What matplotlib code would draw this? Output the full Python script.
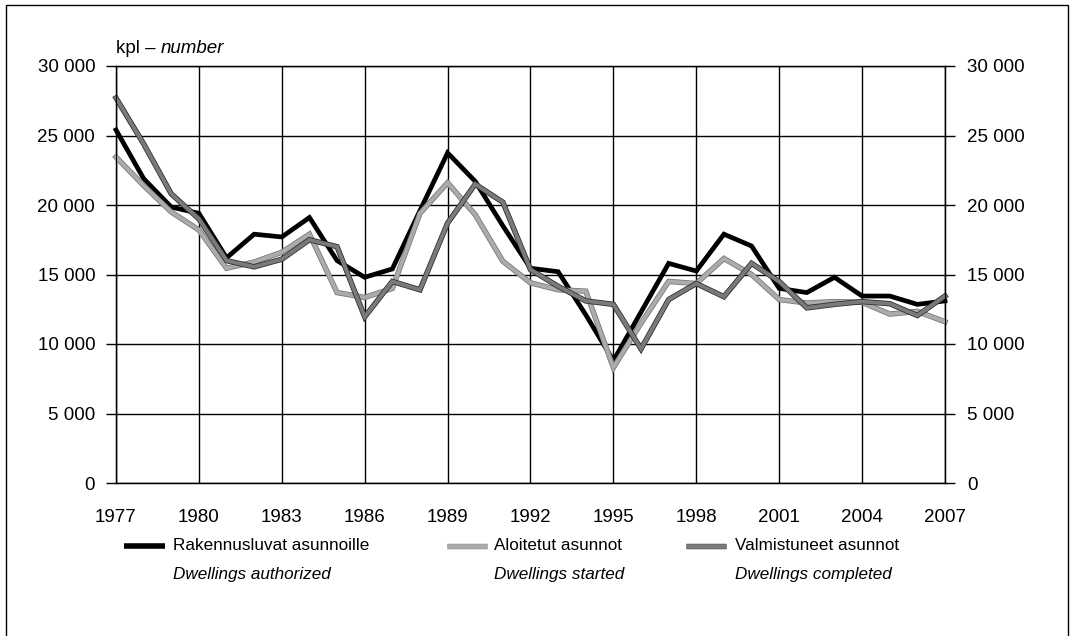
import matplotlib
matplotlib.use("Agg")
import matplotlib.pyplot as plt
import matplotlib.patheffects as pe
from matplotlib import font_manager
from matplotlib.lines import Line2D
from matplotlib.patches import Rectangle
from matplotlib.ticker import FuncFormatter, MultipleLocator

# Dwellings in Finland, 1977-2007 (number of dwellings)
years = list(range(1977, 2008))
authorized = [25400, 21900, 19850, 19400, 16200, 17900, 17700, 19100, 16000, 14800,
              15400, 19600, 23750, 21700, 18500, 15450, 15200, 12100, 8800, 12300,
              15800, 15250, 17900, 17050, 14000, 13700, 14800, 13450, 13450, 12850,
              13100]
started = [23450, 21400, 19500, 18200, 15450, 15900, 16600, 17900, 13700, 13350,
           14000, 19400, 21600, 19300, 15950, 14400, 13900, 13800, 8300, 11500,
           14500, 14350, 16150, 15000, 13200, 12950, 13050, 13000, 12150, 12350,
           11600]
completed = [27700, 24400, 20800, 19000, 16000, 15550, 16100, 17500, 17000, 11950,
             14500, 13900, 18700, 21500, 20200, 15350, 14150, 13100, 12850, 9650,
             13200, 14350, 13400, 15800, 14500, 12600, 12850, 13050, 12900, 12050,
             13450]

series_fi = ["Rakennusluvat asunnoille", "Aloitetut asunnot", "Valmistuneet asunnot"]
series_en = ["Dwellings authorized", "Dwellings started", "Dwellings completed"]
unit_fi = "kpl \u2013 "
unit_en = "number"

installed = {f.name for f in font_manager.fontManager.ttflist}
if "Liberation Sans Narrow" in installed:
    FONT, FS, LFS = "Liberation Sans Narrow", 15.5, 15
else:
    FONT, FS, LFS = "Liberation Sans", 13.5, 12.3
plt.rcParams["font.family"] = [FONT, "DejaVu Sans"]

W, H = 1076, 636
fig = plt.figure(figsize=(W / 100, H / 100), dpi=100)
fig.patch.set_facecolor("white")

# outer frame of the figure panel
fig.add_artist(Rectangle((6 / W, -0.05), (1068 - 6) / W, 1.05 - 5 / H,
                         transform=fig.transFigure, fill=False,
                         edgecolor="black", lw=1.0))

left, right, top, bottom = 116, 945, 66, 483
ax = fig.add_axes([left / W, 1 - bottom / H, (right - left) / W, (bottom - top) / H])

ax.set_xlim(1977, 2007)
ax.set_ylim(0, 30000)
ax.xaxis.set_major_locator(MultipleLocator(3))
ax.yaxis.set_major_locator(MultipleLocator(5000))

fmt = FuncFormatter(lambda v, p: f"{int(v):,}".replace(",", " "))
ax.yaxis.set_major_formatter(fmt)
ax.xaxis.set_major_formatter(FuncFormatter(lambda v, p: f"{int(v)}"))

ax.grid(True, color="black", lw=1.0, zorder=0)
ax.set_axisbelow(True)
for s in ax.spines.values():
    s.set_color("black")
    s.set_linewidth(1.0)

ax.tick_params(axis="y", direction="out", length=7, width=1.0, pad=8,
               labelsize=FS, colors="black")
ax.tick_params(axis="x", direction="out", length=0, pad=19,
               labelsize=FS, colors="black")

# right-hand duplicate value axis
ax2 = ax.twinx()
ax2.set_ylim(0, 30000)
ax2.yaxis.set_major_locator(MultipleLocator(5000))
ax2.yaxis.set_major_formatter(fmt)
ax2.tick_params(axis="y", direction="out", length=7, width=1.0, pad=9,
                labelsize=FS, colors="black")

lw = 3.4
styles = [
    dict(color="black", lw=lw, edge=None),
    dict(color="#ababab", lw=lw - 0.6, edge="#757575"),
    dict(color="#7a7a7a", lw=lw - 0.6, edge="#2a2a2a"),
]


def effects(st):
    if st["edge"] is None:
        return None
    return [pe.Stroke(linewidth=st["lw"] + 1.1, foreground=st["edge"]), pe.Normal()]


for vals, st in zip([authorized, started, completed], styles):
    ax.plot(years, vals, color=st["color"], lw=st["lw"], solid_joinstyle="miter",
            path_effects=effects(st), zorder=3, clip_on=False)

# unit label above the plot
t = fig.text(left / W, 1 - 53 / H, unit_fi, fontsize=FS, ha="left",
             va="baseline")
fig.canvas.draw()
bb = t.get_window_extent()
fig.text(bb.x1 / W, 1 - 53 / H, unit_en, fontsize=FS, ha="left",
         va="baseline", style="italic")

# legend drawn below the axes
leg_y = 546
samples = [(124, 165, 173), (447, 487, 494), (686, 726, 735)]
for (x0, x1, tx), st, fi, en in zip(samples, styles, series_fi, series_en):
    fig.add_artist(Line2D([x0 / W, x1 / W], [1 - leg_y / H, 1 - leg_y / H],
                          transform=fig.transFigure, color=st["color"],
                          lw=st["lw"] + 0.6, solid_capstyle="butt",
                          path_effects=effects(st)))
    fig.text(tx / W, 1 - leg_y / H, fi, fontsize=LFS, ha="left", va="center")
    fig.text(tx / W, 1 - 575 / H, en, fontsize=LFS, ha="left", va="center",
             style="italic")

fig.savefig("out.png", dpi=100, facecolor="white")
